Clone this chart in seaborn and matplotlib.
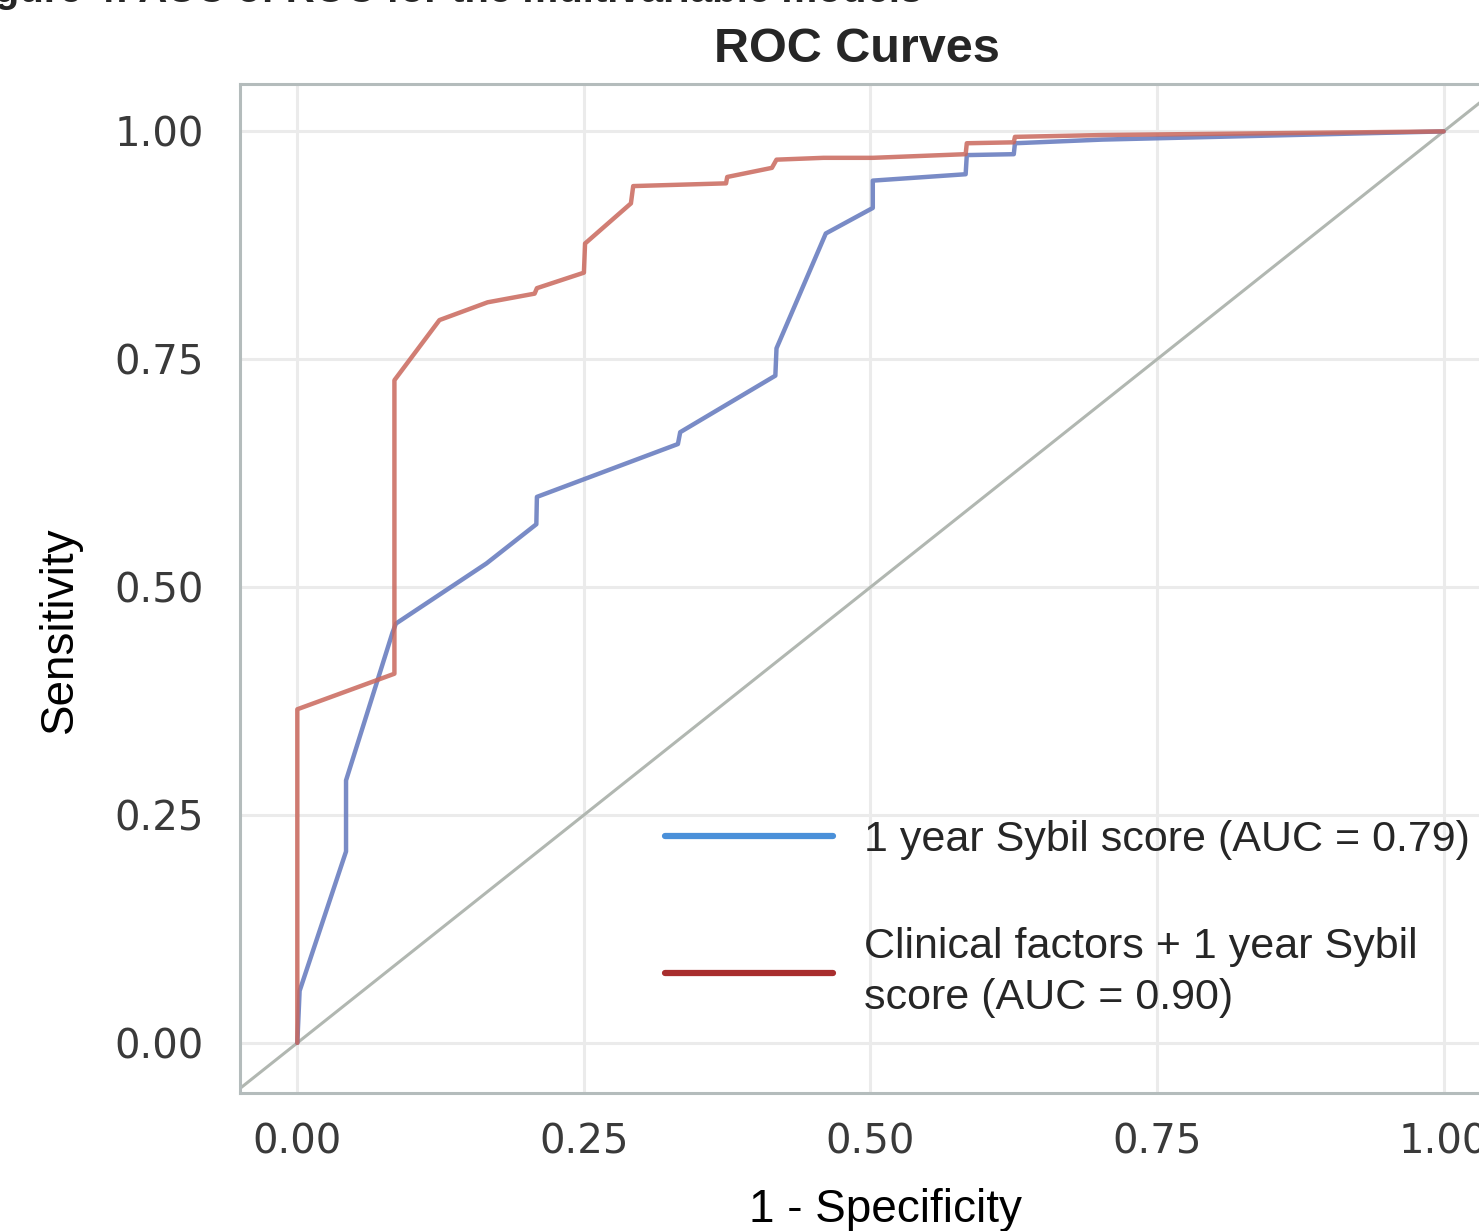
import numpy as np
import pandas as pd
import matplotlib
matplotlib.use("Agg")
import matplotlib.pyplot as plt
from matplotlib.lines import Line2D
import seaborn as sns

# ROC points
sybil_fpr = [0.0, 0.002, 0.0425, 0.0425, 0.083, 0.086, 0.165, 0.2085, 0.209,
             0.332, 0.334, 0.417, 0.418, 0.461, 0.502, 0.502, 0.583, 0.584,
             0.625, 0.626, 0.702, 1.0]
sybil_tpr = [0.0, 0.057, 0.21, 0.288, 0.45, 0.46, 0.526, 0.569, 0.599,
             0.657, 0.670, 0.732, 0.762, 0.888, 0.916, 0.946, 0.953, 0.974,
             0.975, 0.987, 0.991, 1.0]

clin_fpr = [0.0, 0.0, 0.0847, 0.0847, 0.124, 0.166, 0.207, 0.209, 0.25, 0.251,
            0.291, 0.293, 0.374, 0.375, 0.414, 0.418, 0.459, 0.502, 0.583,
            0.584, 0.625, 0.626, 0.702, 1.0]
clin_tpr = [0.0, 0.366, 0.405, 0.727, 0.793, 0.8125, 0.822, 0.828, 0.845, 0.877,
            0.921, 0.940, 0.943, 0.950, 0.960, 0.969, 0.971, 0.971, 0.975,
            0.987, 0.988, 0.994, 0.996, 1.0]

ticks = [0.0, 0.25, 0.5, 0.75, 1.0]
tick_labels = ["0.00", "0.25", "0.50", "0.75", "1.00"]
legend_labels = ["1 year Sybil score (AUC = 0.79)",
                 "Clinical factors + 1 year Sybil\nscore (AUC = 0.90)"]

sns.set_theme(style="whitegrid")
plt.rcParams["font.family"] = ["Liberation Sans", "DejaVu Sans"]

W, H = 1479, 1231
fig = plt.figure(figsize=(W / 100, H / 100), dpi=100)
ax = fig.add_axes([240 / W, 138 / H, 1261 / W, 1009 / H])

ax.axline((0, 0), slope=1, color="#b1b7b1", lw=2.2, zorder=2)

sybil = pd.DataFrame({"fpr": sybil_fpr, "tpr": sybil_tpr})
clin = pd.DataFrame({"fpr": clin_fpr, "tpr": clin_tpr})
sns.lineplot(data=sybil, x="fpr", y="tpr", sort=False, estimator=None,
             color="#6a7fc0", lw=3.2, alpha=0.9, ax=ax, zorder=3)
sns.lineplot(data=clin, x="fpr", y="tpr", sort=False, estimator=None,
             color="#c9675c", lw=3.2, alpha=0.85, ax=ax, zorder=4)

ax.set_xlim(-0.05, 1.05)
ax.set_ylim(-0.055, 1.052)
ax.set_xticks(ticks)
ax.set_xticklabels(tick_labels)
ax.set_yticks(ticks)
ax.set_yticklabels(tick_labels)
ax.grid(True, color="#ebebeb", lw=2.2)
for s in ax.spines.values():
    s.set_color("#b4bcbc")
    s.set_linewidth(2.2)
ax.spines["right"].set_visible(False)

ax.tick_params(axis="both", which="major", direction="out", color="#b4b4b4",
               width=1.5, labelcolor="#3a3a3a", labelsize=29)
ax.tick_params(axis="x", length=12, pad=9)
ax.tick_params(axis="y", length=16, pad=10)
for lab in ax.get_xticklabels() + ax.get_yticklabels():
    lab.set_family("DejaVu Sans")

ax.set_xlabel("1 - Specificity", fontsize=33, color="black", va="center")
ax.xaxis.set_label_coords(0.512, -0.116)
ax.set_ylabel("Sensitivity", fontsize=33, color="black", va="center")
ax.yaxis.set_label_coords(-0.1427, 0.459)

handles = [Line2D([], [], color="#4a90d9", lw=4.5),
           Line2D([], [], color="#a82e2e", lw=4.5)]
leg = ax.legend(handles, legend_labels, loc="upper left",
                bbox_to_anchor=(665 / W, 1 - 820 / H), bbox_transform=fig.transFigure,
                frameon=False, fontsize=31, handlelength=3.9, handletextpad=0.72,
                labelspacing=1.55, borderpad=0, borderaxespad=0)
for t in leg.get_texts():
    t.set_linespacing(1.35)

fig.text(857 / W, 1 - 62 / H, "ROC Curves", ha="center", va="baseline",
         fontsize=35, weight="bold")
fig.text(-41 / W, 1 - 1.5 / H, "Figure 4: AUC of ROC for the multivariable models",
         ha="left", va="baseline", fontsize=29, weight="bold")

fig.savefig("out.png", dpi=100)
